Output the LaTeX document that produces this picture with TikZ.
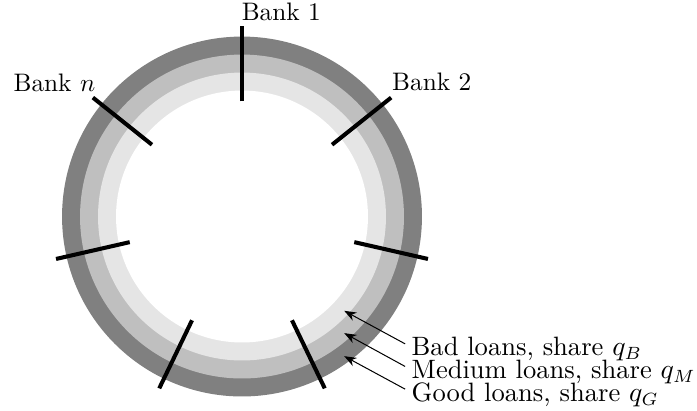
\documentclass[tikz,border=0pt]{standalone}
\usepackage{tikz}
\usetikzlibrary{arrows.meta, positioning}

\begin{document}
\begin{tikzpicture}[>={Stealth}, node distance=0pt,
        divider/.style={line width=1.6pt},
        bank/.style={inner sep=0pt},
        loan/.style={inner sep=0pt, anchor=base west, font=\fontsize{10.5}{12}\selectfont}]
    \useasboundingbox (-3.362,-2.688) rectangle (6.321,3.008);

    \fill[black!50] (0,0) circle (2.5);
    \fill[black!25] (0,0) circle (2.25);
    \fill[black!10] (0,0) circle (2);
    \fill[white]    (0,0) circle (1.75);
    \foreach \i in {0,...,6}
      \draw[divider] (90-\i*360/7:1.6) -- (90-\i*360/7:2.65);

    \node[bank, anchor=base west] (bank_1) at (-0.01,2.73) {Bank 1};
    \node[bank, anchor=base west] (bank_2) at (2.08,1.75)  {Bank 2};
    \node[bank, anchor=base west] (bank_n) at (-3.18,1.73) {Bank $n$};

    \coordinate (bad_tip)    at (1.42,-1.31);
    \coordinate (medium_tip) at (1.42,-1.62);
    \coordinate (good_tip)   at (1.42,-1.94);

    \node[loan] (bad)    at (2.35,-1.934) {Bad loans, share $q_B$};
    \node[loan] (medium) at (2.35,-2.248) {Medium loans, share $q_M$};
    \node[loan] (good)   at (2.35,-2.563) {Good loans, share $q_G$};

    \draw[->] ([shift={(-2.4pt,4.7pt)}]bad.base west)    -- (bad_tip);
    \draw[->] ([shift={(-2.4pt,4.7pt)}]medium.base west) -- (medium_tip);
    \draw[->] ([shift={(-2.4pt,4.7pt)}]good.base west)   -- (good_tip);
\end{tikzpicture}
\end{document}
